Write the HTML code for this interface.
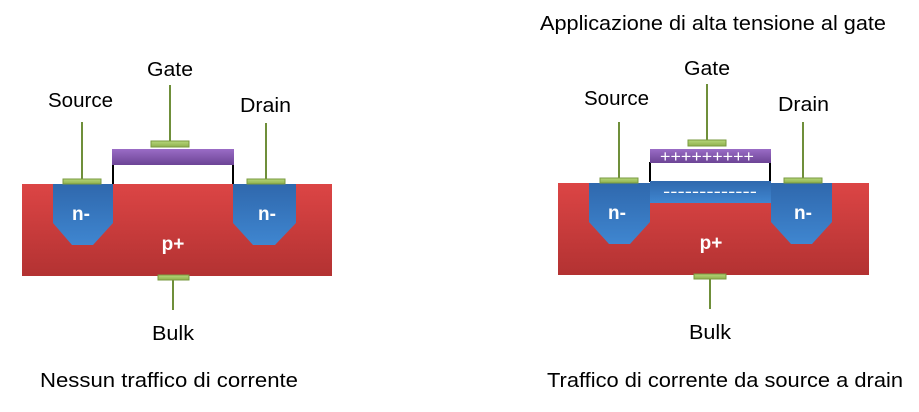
<!DOCTYPE html>
<html><head><style>
body{margin:0;background:#fff;}
svg{display:block;font-family:"Liberation Sans",Arial,sans-serif;}
</style></head><body>
<svg width="919" height="412" viewBox="0 0 919 412" xmlns="http://www.w3.org/2000/svg">
<defs>
<linearGradient id="red" x1="0" y1="0" x2="0" y2="1"><stop offset="0" stop-color="#dc4545"/><stop offset="1" stop-color="#b33232"/></linearGradient>
<linearGradient id="blue" x1="0" y1="0" x2="0" y2="1"><stop offset="0" stop-color="#2f68ad"/><stop offset="1" stop-color="#3f86d0"/></linearGradient>
<linearGradient id="pur" x1="0" y1="0" x2="0" y2="1"><stop offset="0" stop-color="#9a6cc6"/><stop offset="1" stop-color="#6c4495"/></linearGradient>
<linearGradient id="grn" x1="0" y1="0" x2="0" y2="1"><stop offset="0" stop-color="#b6d77a"/><stop offset="1" stop-color="#8fb04e"/></linearGradient>
</defs>
<g font-size="20" fill="#000">
<text x="540" y="30" textLength="346" lengthAdjust="spacingAndGlyphs">Applicazione di alta tensione al gate</text>
<text x="147" y="76" textLength="46" lengthAdjust="spacingAndGlyphs">Gate</text>
<text x="48" y="107" textLength="65" lengthAdjust="spacingAndGlyphs">Source</text>
<text x="240" y="112" textLength="51" lengthAdjust="spacingAndGlyphs">Drain</text>
<text x="152" y="340" textLength="42" lengthAdjust="spacingAndGlyphs">Bulk</text>
<text x="40" y="387" textLength="258" lengthAdjust="spacingAndGlyphs">Nessun traffico di corrente</text>
<text x="684" y="75" textLength="46" lengthAdjust="spacingAndGlyphs">Gate</text>
<text x="584" y="105" textLength="65" lengthAdjust="spacingAndGlyphs">Source</text>
<text x="778" y="111" textLength="51" lengthAdjust="spacingAndGlyphs">Drain</text>
<text x="689" y="339" textLength="42" lengthAdjust="spacingAndGlyphs">Bulk</text>
<text x="547" y="387" textLength="356" lengthAdjust="spacingAndGlyphs">Traffico di corrente da source a drain</text>
</g>
<g stroke="#6f8f3a" stroke-width="2">
<line x1="170" y1="85" x2="170" y2="141"/><line x1="82" y1="122" x2="82" y2="179"/><line x1="266" y1="123" x2="266" y2="179"/><line x1="173" y1="279" x2="173" y2="310"/>
<line x1="707" y1="84" x2="707" y2="140"/><line x1="619" y1="122" x2="619" y2="179"/><line x1="803" y1="122" x2="803" y2="179"/><line x1="710" y1="278" x2="710" y2="309"/>
</g>
<g stroke="#000" stroke-width="2"><line x1="113" y1="164" x2="113" y2="184"/><line x1="233" y1="164" x2="233" y2="184"/>
<line x1="650" y1="162" x2="650" y2="182"/><line x1="770" y1="162" x2="770" y2="182"/></g>
<rect x="22" y="184" width="310" height="92" fill="url(#red)"/>
<polygon points="53,184 113,184 113,223 93,245 72,245 53,223" fill="url(#blue)"/>
<polygon points="233,184 296,184 296,223 275,245 253,245 233,223" fill="url(#blue)"/>
<rect x="112" y="149" width="122" height="16" fill="url(#pur)"/>
<g fill="url(#grn)" stroke="#7a9a40" stroke-width="1">
<rect x="151" y="141" width="38" height="6"/><rect x="63" y="179" width="38" height="5"/><rect x="247" y="179" width="38" height="5"/><rect x="158" y="275" width="31" height="5"/>
</g>
<g fill="#fff" font-size="19" font-weight="bold" text-anchor="middle">
<text x="81" y="220">n-</text><text x="267" y="220">n-</text><text x="173" y="250">p+</text>
</g>
<rect x="558" y="183" width="311" height="92" fill="url(#red)"/>
<polygon points="589,183 650,183 650,222 630,244 609,244 589,222" fill="url(#blue)"/>
<polygon points="771,183 832,183 832,222 812,244 791,244 771,222" fill="url(#blue)"/>
<rect x="650" y="181" width="121" height="22" fill="url(#blue)"/>
<rect x="650" y="149" width="121" height="14" fill="url(#pur)"/>
<g fill="url(#grn)" stroke="#7a9a40" stroke-width="1">
<rect x="688" y="140" width="38" height="6"/><rect x="600" y="178" width="38" height="5"/><rect x="784" y="178" width="38" height="5"/><rect x="694" y="274" width="32" height="5"/>
</g>
<g fill="#fff" font-size="19" font-weight="bold" text-anchor="middle">
<text x="617" y="219">n-</text><text x="803" y="219">n-</text><text x="711" y="249">p+</text>
</g>
<g fill="#fff" font-size="17">
<text x="660" y="162" textLength="94" lengthAdjust="spacingAndGlyphs">+++++++++</text>
<text x="663" y="197" textLength="94" lengthAdjust="spacingAndGlyphs">-------------</text>
</g>
</svg>
</body></html>
